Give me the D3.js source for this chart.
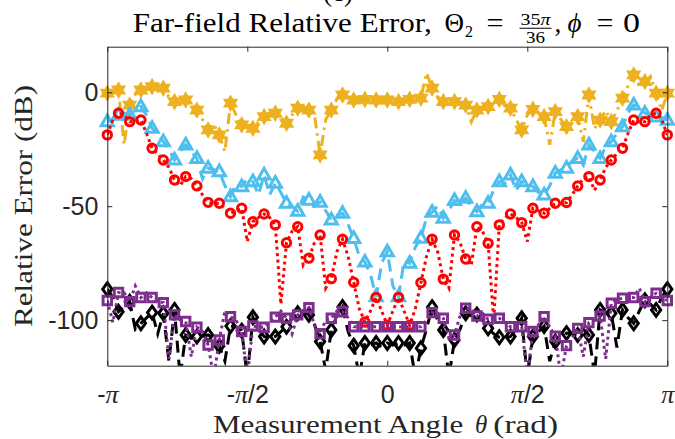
<!DOCTYPE html>
<html><head><meta charset="utf-8">
<script src="https://cdn.jsdelivr.net/npm/d3@7"></script>
<style>body{margin:0;background:#fff;} svg{display:block}</style>
</head><body>
<svg id="c" width="675" height="439"></svg>
<script>
// ---------- data ----------
const xTickVals = [-Math.PI, -Math.PI/2, 0, Math.PI/2, Math.PI];
const xTickLabels = [["-","π"],["-","π","/2"],["0"],["","π","/2"],["","π"]];
const yTickVals = [0, -50, -100];
const gridStartDeg = -180, gridStepDeg = 3.6; // markers every 7.2 deg, line every 3.6 deg

const yellowMk = [-0.4,1,-5.6,1,2.5,1.8,-4.1,-3.4,-7.8,-16.5,
  -18.7,-4.8,-14.3,-15.8,-10.7,-9.2,-13.6,-7,-7.8,-27.5,
  -7.8,-1.2,-3.4,-3.1,-3.4,-3.4,-4.1,-3.1,-2.6,1.8,
  -4.1,-4.1,-5.6,-7.8,-6.3,-3.1,-7,-16.5,-7.5,-10.7,
  -8.5,-15.1,-10.7,-1.2,-12.2,-12.9,-2.6,7.6,4.7,-0.4,-0.4];
const yellowMid = [0,-23,-1,1,2,-2,-3,-5,-12,-14,
  -26,-10,-15,-13,-9,-11,-10,-7,-10,-12,
  -3,-2,-3,-3.5,-3.2,-3.6,-3.5,-3,8.5,-2,
  -4,-5,-13,-6,-5,-6,-12,-10,-9,-23,
  -12,-13,-21.7,-16,-8,-8,3,3,7,-8];

const blueMk = [-12.9,-10,-10,-6.3,-15.8,-21.7,-29.7,-23.1,-29,-33.3,
  -34.8,-45.8,-41.4,-39.2,-36.3,-39.9,-48.7,-52.2,-47.3,-48.2,
  -56,-53.1,-64.1,-74.5,-89.7,-70,-89.7,-75,-64,-52.6,
  -55.2,-47.5,-46.5,-52.4,-48.7,-39.2,-36.3,-39.2,-41.4,-45,
  -35.5,-33.3,-29,-23.1,-29,-21.7,-15.1,-5.6,-9.2,-10.8,-12.2];
const blueMid = [-12,-9,-8,-10,-18,-25,-26,-26,-38,-34,
  -41,-40,-38,-45,-45,-44,-50,-46,-50,-52,
  -54,-58,-72,-80,-75,-85,-74,-68,-55,-50,
  -52,-49,-50,-49,-43,-40,-43,-40,-44,-41,
  -34,-30,-32,-26,-24,-18,-9,-7,-10,-11];

const redMk = [-18.7,-9.2,-12.9,-12.2,-24.6,-29.7,-38.5,-37,-41.1,-48.3,
  -48.7,-53.1,-50.9,-56.8,-53.4,-58.2,-66,-59,-72.8,-62.6,
  -81.8,-64.5,-83.4,-100.8,-90,-102.2,-90,-102.2,-83.6,-64.5,
  -82,-62.6,-73.2,-59,-66.3,-58.2,-53.4,-57.2,-50.9,-53.1,
  -48.7,-48.4,-41.1,-37,-38.5,-29.7,-24.6,-12.2,-12.9,-9.2,-18.7];
const redMid = [-12,-10,-13,-18,-27,-33,-41,-38,-45,-49,
  -51,-52,-65.5,-55,-55,-93,-61,-76,-66,-86,
  -70,-72,-95,-96,-96,-96,-96,-95,-72,-70,
  -86,-66,-76,-61,-100,-55,-55,-65.5,-52,-51,
  -49,-45,-38,-43,-33,-27,-18,-13,-10,-12];

const blackMk = [-86.4,-96.3,-91.9,-101.4,-96.7,-97,-95.5,-106.5,-107.2,-106.5,
  -111.3,-102.6,-104.6,-98.7,-107.2,-107.2,-102.9,-97,-97.7,-109.4,
  -104.3,-94.2,-111.2,-110,-110,-110,-110,-110,-112.3,-94.3,
  -104.3,-108.7,-97,-97.5,-103.6,-107.5,-107.2,-99.2,-107.2,-102.6,
  -109.4,-105.7,-106.5,-106.5,-95.5,-97,-95.5,-101.4,-91.3,-95.5,-86.4];
const blackMid = [-90,-94,-104,-99,-106,-118,-125,-108,-107,-108,
  -118,-103,-125,-104,-108,-105,-99,-96,-102,-122,
  -98,-105,-125,-111,-112,-111,-111,-125,-104,-100,
  -125,-104,-98,-100,-106,-108,-104,-125,-105,-118,
  -108,-106,-104,-124,-97,-112,-99,-96,-93,-90];

const purpleMk = [-91.4,-87.9,-91.9,-90.1,-90.1,-92.3,-97.7,-100.6,-103.1,-110.9,
  -108.7,-98.5,-105,-102.6,-103.1,-98.7,-99.2,-97.7,-94.5,-106,
  -99.2,-96.3,-102.9,-102.9,-102.9,-102.9,-102.9,-102.9,-102.9,-96.7,
  -99.2,-106.5,-94.8,-98.2,-99.6,-99.2,-102.9,-102.9,-105,-98.5,
  -107.1,-111.2,-103.6,-101.1,-98.2,-92.6,-90.4,-90.1,-91.9,-88.2,-91.4];
const purpleMid = [-101,-88,-85,-88,-92,-117,-100,-116,-105,-125,
  -96,-100,-125,-103,-101,-96,-106,-96,-102,-100,
  -96,-99,-103,-103,-103,-103,-103,-103,-100,-97,
  -108,-98,-95,-97,-99,-101,-103,-125,-102,-103,
  -125,-108,-116,-100,-117,-91,-90,-86,-90,-90];

const seriesDefs = [
  {mk: yellowMk, mid: yellowMid, color: "#EDB120", dash: "11,5,2.5,5", marker: "hexagram"},
  {mk: blueMk, mid: blueMid, color: "#4DBEEE", dash: "12,7", marker: "triangle"},
  {mk: redMk, mid: redMid, color: "#FF0000", dash: "3,3.5", marker: "circle"},
  {mk: blackMk, mid: blackMid, color: "#000000", dash: "12,7", marker: "diamond"},
  {mk: purpleMk, mid: purpleMid, color: "#7E2F8E", dash: "3,3.5", marker: "square"}
];

// ---------- layout ----------
const svg = d3.select("#c");
const L = 107.3, R = 667.3, T = 46.7, B = 365.7;
const x = d3.scaleLinear().domain([-Math.PI, Math.PI]).range([L, R]);
const y = d3.scaleLinear().domain([-120, 20]).range([B, T]);
const axisColor = "#262626";
const toRad = d => d * Math.PI / 180;

svg.append("defs").append("clipPath").attr("id","clip")
  .append("rect").attr("x",L).attr("y",T).attr("width",R-L).attr("height",B-T);

// ---------- series ----------
function markerPath(type){
  if(type==="hexagram"){
    const r=6.8, pts=[];
    for(let k=0;k<12;k++){const a=-Math.PI/2+k*Math.PI/6; const rr=k%2===0?r:r/Math.sqrt(3); pts.push([rr*Math.cos(a),rr*Math.sin(a)]);}
    return "M"+pts.map(p=>p.join(",")).join("L")+"Z";
  }
  if(type==="triangle"){const r=6.6; return `M0,${-r}L${r*0.92},${r*0.62}L${-r*0.92},${r*0.62}Z`;}
  if(type==="diamond"){const r=6.4; return `M0,${-r}L${r*0.72},0L0,${r}L${-r*0.72},0Z`;}
  if(type==="square"){const s=4.2; return `M${-s},${-s}L${s},${-s}L${s},${s}L${-s},${s}Z`;}
  const r=4.2; return `M${r},0A${r},${r} 0 1,1 ${-r},0A${r},${r} 0 1,1 ${r},0Z`;
}

const line = d3.line().x(d=>x(d.t)).y(d=>y(d.v));
seriesDefs.forEach(s=>{
  const lineData = [];
  for(let k=0;k<=100;k++){
    const v = (k%2===0) ? s.mk[k/2] : s.mid[(k-1)/2];
    lineData.push({t: toRad(gridStartDeg + k*gridStepDeg), v});
  }
  const mkData = s.mk.map((v,i)=>({t: toRad(gridStartDeg + i*2*gridStepDeg), v}));
  const g = svg.append("g");
  g.append("path").datum(lineData).attr("clip-path","url(#clip)")
    .attr("d", line).attr("fill","none").attr("stroke", s.color)
    .attr("stroke-width", 3).attr("stroke-dasharray", s.dash);
  g.selectAll("path.mk").data(mkData).enter().append("path").attr("class","mk")
    .attr("transform", d=>`translate(${x(d.t)},${y(d.v)})`)
    .attr("d", markerPath(s.marker))
    .attr("fill", s.marker==="hexagram" ? s.color : "none")
    .attr("stroke", s.color).attr("stroke-width", s.marker==="hexagram" ? 2 : 3)
    .attr("stroke-linejoin","miter");
});

// ---------- axes ----------
const tickFont = "'Liberation Sans', Arial, sans-serif";
const xb = svg.append("g").attr("transform",`translate(0,${B})`)
  .call(d3.axisBottom(x).tickValues(xTickVals).tickSize(-5).tickSizeOuter(0).tickPadding(19.5).tickFormat(""));
const xt = svg.append("g").attr("transform",`translate(0,${T})`)
  .call(d3.axisTop(x).tickValues(xTickVals).tickSize(-5).tickSizeOuter(0).tickFormat(""));
const yl = svg.append("g").attr("transform",`translate(${L},0)`)
  .call(d3.axisLeft(y).tickValues(yTickVals).tickSize(-5).tickSizeOuter(0).tickPadding(9).tickFormat(d3.format("d")));
const yr = svg.append("g").attr("transform",`translate(${R},0)`)
  .call(d3.axisRight(y).tickValues(yTickVals).tickSize(-5).tickSizeOuter(0).tickFormat(""));
[xb,xt,yl,yr].forEach(g=>{
  g.selectAll("path.domain").attr("stroke",axisColor).attr("stroke-width",1);
  g.selectAll(".tick line").attr("stroke",axisColor).attr("stroke-width",1);
});
yl.selectAll(".tick text").attr("fill",axisColor).style("font-family",tickFont).style("font-size","25px")
  .text(d=> d<0 ? "-"+Math.abs(d) : d);
xb.selectAll(".tick text").each(function(d,i){
  const t = d3.select(this).attr("fill",axisColor).style("font-family",tickFont).style("font-size","25px");
  t.text(null);
  xTickLabels[i].forEach(p=>{
    if(!p) return;
    const ts = t.append("tspan").text(p);
    if(p==="π") ts.style("font-family","'Liberation Serif', serif").style("font-style","italic").style("font-size","26px");
  });
});

// ---------- title ----------
const serif = "'Liberation Serif', 'Times New Roman', serif";
const title = svg.append("g").attr("fill","#000").style("font-family",serif);
title.append("text").attr("x",132.7).attr("y",31.7).style("font-size","27px")
  .attr("textLength",299).attr("lengthAdjust","spacingAndGlyphs").text("Far-field Relative Error,");
title.append("text").attr("x",444.5).attr("y",31.7).style("font-size","27px").text("Θ");
title.append("text").attr("x",465).attr("y",36.7).style("font-size","16px").text("2");
title.append("text").attr("x",486.5).attr("y",31.7).style("font-size","27px").attr("textLength",17).attr("lengthAdjust","spacingAndGlyphs").text("=");
title.append("text").attr("x",535.5).attr("y",25).attr("text-anchor","middle").style("font-size","16px")
  .attr("textLength",30).attr("lengthAdjust","spacingAndGlyphs").text("35").append("tspan").style("font-style","italic").text("π");
title.append("line").attr("x1",519.5).attr("x2",551.5).attr("y1",28.3).attr("y2",28.3).attr("stroke","#000").attr("stroke-width",1.1);
title.append("text").attr("x",535.5).attr("y",43).attr("text-anchor","middle").style("font-size","16px")
  .attr("textLength",19).attr("lengthAdjust","spacingAndGlyphs").text("36");
title.append("text").attr("x",554.5).attr("y",31.7).style("font-size","27px").text(",");
title.append("text").attr("x",567.5).attr("y",31.7).style("font-size","27px").style("font-style","italic").text("ϕ");
title.append("text").attr("x",596.5).attr("y",31.7).style("font-size","27px").attr("textLength",17).attr("lengthAdjust","spacingAndGlyphs").text("=");
title.append("text").attr("x",623).attr("y",31.7).style("font-size","27px").attr("textLength",17).attr("lengthAdjust","spacingAndGlyphs").text("0");
// partially visible panel label above the title (cut off at the top edge, as in the reference)
svg.append("text").attr("x",338).attr("y",1).attr("text-anchor","middle").style("font-family",serif).style("font-size","27px").text("(c)");

// ---------- axis labels ----------
const xl = svg.append("g").attr("fill",axisColor).style("font-family",serif).style("font-size","25px");
xl.append("text").attr("x",213).attr("y",433).attr("textLength",250.3).attr("lengthAdjust","spacingAndGlyphs").text("Measurement Angle");
xl.append("text").attr("x",475).attr("y",433).style("font-style","italic").text("θ");
xl.append("text").attr("x",493.3).attr("y",433).attr("textLength",64.7).attr("lengthAdjust","spacingAndGlyphs").text("(rad)");

svg.append("text").attr("transform","translate(32,327) rotate(-90)")
  .attr("fill",axisColor).style("font-family",serif).style("font-size","25px")
  .attr("textLength",242).attr("lengthAdjust","spacingAndGlyphs").text("Relative Error (dB)");
</script>
</body></html>
